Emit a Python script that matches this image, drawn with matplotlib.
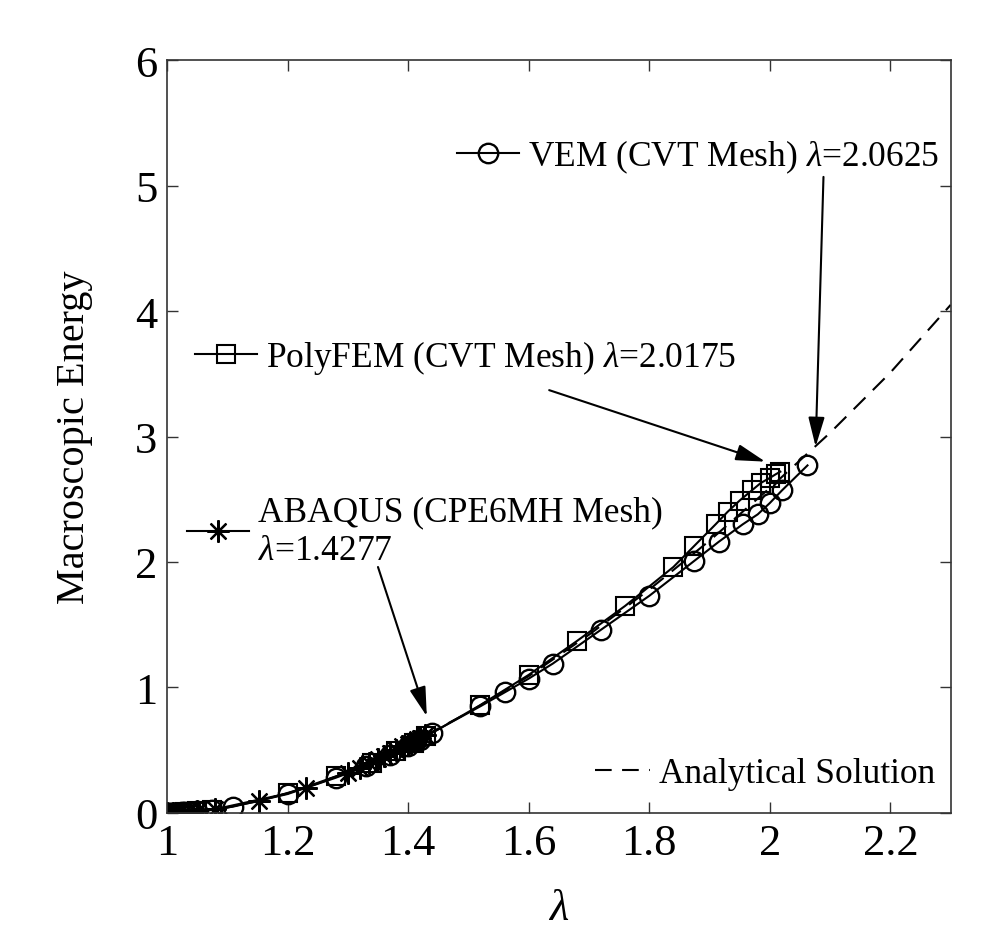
import matplotlib
matplotlib.use("Agg")
import matplotlib.pyplot as plt
from matplotlib.ticker import FormatStrFormatter

plt.rcParams["font.family"] = ["Liberation Serif", "DejaVu Serif"]
plt.rcParams["mathtext.fontset"] = "custom"
plt.rcParams["mathtext.rm"] = "Liberation Serif"
plt.rcParams["mathtext.it"] = "Liberation Serif:italic"

# analytical solution (dashed)
lam_exact = [1.0, 1.1, 1.2, 1.3, 1.4, 1.5, 1.6, 1.7, 1.8, 1.9, 2.0, 2.1, 2.2, 2.3]
E_exact = [0.0, 0.042, 0.154, 0.324, 0.545, 0.80, 1.09, 1.42, 1.78, 2.17, 2.59,
           3.03, 3.51, 4.05]

# VEM (CVT mesh), circles
lam_vem = [1.0, 1.005, 1.01, 1.015, 1.02, 1.025, 1.03, 1.04, 1.05, 1.075, 1.11,
           1.2, 1.28, 1.33, 1.37, 1.40, 1.42, 1.44, 1.52, 1.56, 1.60, 1.64,
           1.72, 1.80, 1.875, 1.915, 1.955, 1.98, 2.0, 2.02, 2.0625]
E_vem = [0.0, 0.0001, 0.0005, 0.001, 0.002, 0.003, 0.004, 0.007, 0.011, 0.024,
         0.050, 0.15, 0.28, 0.37, 0.46, 0.53, 0.58, 0.64, 0.85, 0.96, 1.07,
         1.19, 1.46, 1.73, 2.01, 2.16, 2.30, 2.38, 2.47, 2.57, 2.77]

# PolyFEM (CVT mesh), squares
lam_poly = [1.0, 1.005, 1.01, 1.015, 1.02, 1.03, 1.04, 1.05, 1.075, 1.2, 1.28,
            1.34, 1.38, 1.41, 1.43, 1.52, 1.60, 1.68, 1.76, 1.84, 1.875, 1.91,
            1.93, 1.95, 1.97, 1.985, 2.0, 2.01, 2.0175]
E_poly = [0.0, 0.0001, 0.0005, 0.001, 0.002, 0.004, 0.007, 0.011, 0.024, 0.155,
          0.29, 0.40, 0.49, 0.56, 0.61, 0.86, 1.10, 1.37, 1.65, 1.96, 2.13,
          2.30, 2.40, 2.49, 2.57, 2.63, 2.67, 2.70, 2.72]

# ABAQUS (CPE6MH mesh), asterisks
lam_abq = [1.0, 1.01, 1.02, 1.035, 1.05, 1.08, 1.153, 1.23, 1.30, 1.32, 1.335,
           1.35, 1.36, 1.37, 1.38, 1.39, 1.40, 1.405, 1.41, 1.415, 1.42, 1.4277]
E_abq = [0.0, 0.0005, 0.002, 0.006, 0.011, 0.027, 0.094, 0.20, 0.32, 0.36,
         0.395, 0.43, 0.455, 0.48, 0.505, 0.53, 0.545, 0.56, 0.575, 0.585, 0.60,
         0.62]

fig = plt.figure(figsize=(10.06, 9.28), dpi=100)
ax = fig.add_axes([0.166, 0.123, 0.779, 0.811])

lw = 1.5
h_exact, = ax.plot(lam_exact, E_exact, color="k", lw=lw, linestyle=(0, (8, 5)))
h_abq, = ax.plot(lam_abq, E_abq, color="k", lw=lw, marker=(8, 2, 0),
                 markersize=16, markeredgewidth=1.6)
h_poly, = ax.plot(lam_poly, E_poly, color="k", lw=lw, marker="s", markersize=13,
                  markerfacecolor="none", markeredgewidth=1.5)
h_vem, = ax.plot(lam_vem, E_vem, color="k", lw=lw, marker="o", markersize=14,
                 markerfacecolor="none", markeredgewidth=1.7)

ax.set_xlim(1, 2.3)
ax.set_ylim(0, 6)
ax.set_xticks([1, 1.2, 1.4, 1.6, 1.8, 2.0, 2.2])
ax.set_yticks([0, 1, 2, 3, 4, 5, 6])
ax.xaxis.set_major_formatter(FormatStrFormatter("%g"))
ax.tick_params(direction="in", top=True, right=True, length=8, width=1,
               labelsize=32, pad=7, color="#333333")
for sp in ax.spines.values():
    sp.set_linewidth(1.2)
    sp.set_color("#333333")

ax.set_xlabel(r"$\lambda$", fontsize=32, labelpad=18)
ax.set_ylabel("Macroscopic Energy", fontsize=29, labelpad=30)

fs = 25.5
common = dict(frameon=False, fontsize=fs, borderpad=0, borderaxespad=0,
              handletextpad=0.25, loc="center left")

leg1 = ax.legend([h_vem], [r"VEM (CVT Mesh) $\lambda$=2.0625"],
                 bbox_to_anchor=(0.370, 0.8725), handlelength=1.75, **common)
ax.add_artist(leg1)
leg2 = ax.legend([h_poly], [r"PolyFEM (CVT Mesh) $\lambda$=2.0175"],
                 bbox_to_anchor=(0.036, 0.6056), handlelength=1.75, **common)
ax.add_artist(leg2)
leg3 = ax.legend([h_abq], ["ABAQUS (CPE6MH Mesh)\n" + r"$\lambda$=1.4277"],
                 bbox_to_anchor=(0.026, 0.3745), handlelength=1.75, **common)
ax.add_artist(leg3)
ax.legend([h_exact], ["Analytical Solution"], bbox_to_anchor=(0.546, 0.0518),
          handlelength=1.55, **common)

arrow = dict(arrowstyle="-|>,head_length=0.9,head_width=0.25", color="k", lw=1.5,
             shrinkA=0, shrinkB=0, mutation_scale=20)
ax.annotate("", xy=(2.076, 2.92), xytext=(2.089, 5.07), arrowprops=arrow)
ax.annotate("", xy=(1.9925, 2.80), xytext=(1.634, 3.37), arrowprops=arrow)
ax.annotate("", xy=(1.431, 0.77), xytext=(1.350, 1.96), arrowprops=arrow)

fig.savefig("out.png", dpi=100)
